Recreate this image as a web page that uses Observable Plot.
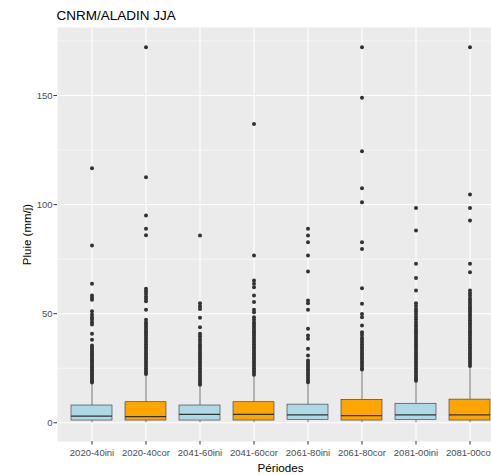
<!DOCTYPE html>
<html>
<head>
<meta charset="utf-8">
<script src="https://cdn.jsdelivr.net/npm/d3@7"></script>
<script src="https://cdn.jsdelivr.net/npm/@observablehq/plot@0.6"></script>
<style>
  html, body { margin: 0; padding: 0; background: white; overflow: hidden; }
  #wrap { position: relative; width: 491px; height: 475px; }
  #strip { position: absolute; left: 0; top: 27px; width: 8px; height: 414px; background: #EEEEEE; }
  #chart { position: absolute; left: 0; top: 0; }
</style>
</head>
<body>
<div id="wrap"><div id="strip"></div><div id="chart"></div></div>
<script>
const categories = ["2020-40ini","2020-40cor","2041-60ini","2041-60cor","2061-80ini","2061-80cor","2081-00ini","2081-00cor"];
const series = ["ini","cor","ini","cor","ini","cor","ini","cor"];
const whiskerLow = [0, 0, 0, 0, 0, 0, 0, 0];
const q1 = [1.0, 1.0, 1.0, 1.0, 1.3, 1.0, 1.3, 1.0];
const median = [3.0, 2.8, 3.8, 3.8, 3.6, 3.3, 3.6, 3.6];
const q3 = [7.9, 9.4, 7.9, 9.4, 8.3, 10.5, 8.7, 10.6];
const whiskerHigh = [18, 22, 17, 21.5, 18, 24, 18.6, 25.4];

const out1 = [116.7, 81.2, 63.7, 58.3, 57.3, 56.4, 51.1, 49.6, 48.4, 47.3, 46.1, 45.0, 40.8, 38, 35.4, 34.5, 33.6, 32.7, 31.8, 31, 30.2, 29.4, 28.6, 27.8, 27, 26.2, 25.4, 24.6, 23.8, 23, 22.2, 21.4, 20.6, 19.8, 19, 18.4];
const out2 = [172.2, 112.6, 95, 88.9, 86, 61.4, 60.3, 59.1, 57.9, 56.8, 55.7, 51.8, 47.2, 46, 45, 44, 43, 42, 41, 40, 39, 38, 37, 36, 35, 34, 33, 32, 31, 30, 29, 28, 27, 26, 25, 24, 23, 22.4];
const out3 = [85.8, 54.8, 53.4, 52.2, 48.1, 43.8, 40.8, 39.6, 38.4, 37.2, 36, 35, 34, 33, 32, 31, 30, 29, 28, 27, 26, 25, 24, 23, 22, 21, 20, 19, 18, 17.4];
const out4 = [137, 76.7, 65.2, 63.7, 62.1, 58.3, 55.3, 51.8, 50.7, 48.4, 47.2, 46, 45, 44, 43, 42, 41, 40, 39, 38, 37, 36, 35, 34, 33, 32, 31, 30, 29, 28, 27, 26, 25, 24, 23, 22];
const out5 = [88.9, 85.8, 82.8, 76.7, 69.3, 56, 54.8, 51.8, 43.1, 40, 38.5, 33.9, 30.8, 28.5, 27.5, 26.5, 25.5, 24.5, 23.5, 22.5, 21.5, 20.5, 19.5, 18.6];
const out6 = [172.2, 149, 124.5, 107.5, 101.1, 82.8, 79.7, 61.7, 54.5, 49.9, 48.4, 44.6, 41.5, 40.3, 39, 38, 37, 36, 35, 34, 33, 32, 31, 30, 29, 28, 27, 26, 25, 24.4];
const out7 = [98.4, 88.1, 72.9, 66.4, 60.6, 54.8, 53.5, 52.2, 51, 49.8, 48.6, 47.4, 46.2, 45, 44, 43, 42, 41, 40, 39, 38, 37, 36, 35, 34, 33, 32, 31, 30, 29, 28, 27, 26, 25, 24, 23, 22, 21, 20, 19.2];
const out8 = [172.2, 104.6, 98.4, 92.7, 72.9, 69, 60.6, 59.4, 58.2, 57, 56, 55, 54, 53, 52, 51, 50, 49, 48, 47, 46, 45, 44, 43, 42, 41, 40, 39, 38, 37, 36, 35, 34, 33, 32, 31, 30, 29, 28, 27, 26];
const outliers = [out1, out2, out3, out4, out5, out6, out7, out8];

const yTicks = [0, 50, 100, 150];
const yMinor = [25, 75, 125, 175];

const boxes = categories.map((c, i) => ({cat: c, series: series[i], lo: whiskerLow[i], q1: q1[i], med: median[i], q3: q3[i], hi: whiskerHigh[i]}));
const points = categories.flatMap((c, i) => outliers[i].map(v => ({cat: c, value: v})));

const font = "'Liberation Sans', Arial, Helvetica, sans-serif";

const chart = Plot.plot({
  width: 491,
  height: 475,
  marginLeft: 57,
  marginRight: 0,
  marginTop: 27,
  marginBottom: 34,
  style: {fontFamily: font, background: "white", overflow: "visible"},
  x: {type: "band", domain: categories, range: [56.6, 504], paddingInner: 0.24, paddingOuter: 0.218, align: 0.5, label: null},
  y: {domain: [-8.6, 181.2], label: null},
  color: {domain: ["ini", "cor"], range: ["#ADD8E6", "#FFA500"]},
  marks: [
    Plot.frame({fill: "#EBEBEB", stroke: null}),
    Plot.ruleY(yMinor, {stroke: "white", strokeWidth: 0.55}),
    Plot.ruleY(yTicks, {stroke: "white", strokeWidth: 1.1}),
    Plot.ruleX(categories, {x: d => d, stroke: "white", strokeWidth: 1.1}),
    Plot.ruleX(boxes, {x: "cat", y1: "q3", y2: "hi", stroke: "#333333", strokeWidth: 0.7}),
    Plot.ruleX(boxes, {x: "cat", y1: "lo", y2: "q1", stroke: "#333333", strokeWidth: 0.7}),
    Plot.barY(boxes, {x: "cat", y1: "q1", y2: "q3", fill: "series", stroke: "#333333", strokeWidth: 0.6}),
    Plot.tickY(boxes, {x: "cat", y: "med", stroke: "#333333", strokeWidth: 1.2}),
    Plot.dot(points, {x: "cat", y: "value", r: 2, fill: "#333333", stroke: null}),
    Plot.axisY(yTicks, {tickSize: 3.5, tickPadding: 1.5, fontSize: 9.5, color: "#4D4D4D", stroke: "#333333", label: null}),
    Plot.axisX({tickSize: 3.5, tickPadding: 4, fontSize: 9.5, color: "#4D4D4D", stroke: "#333333", label: null}),
    Plot.text(["CNRM/ALADIN JJA"], {frameAnchor: "top-left", textAnchor: "start", lineAnchor: "bottom", dx: -1, dy: -8, fontSize: 13.5, fill: "#000000"}),
    Plot.text(["Périodes"], {frameAnchor: "bottom", textAnchor: "middle", lineAnchor: "bottom", dx: 6, dy: 30, fontSize: 11.7, fill: "#000000"}),
    Plot.text(["Pluie (mm/j)"], {frameAnchor: "left", textAnchor: "middle", lineAnchor: "middle", rotate: -90, dx: -30, fontSize: 11.5, fill: "#000000"})
  ]
});
document.getElementById("chart").appendChild(chart);
</script>
</body>
</html>
